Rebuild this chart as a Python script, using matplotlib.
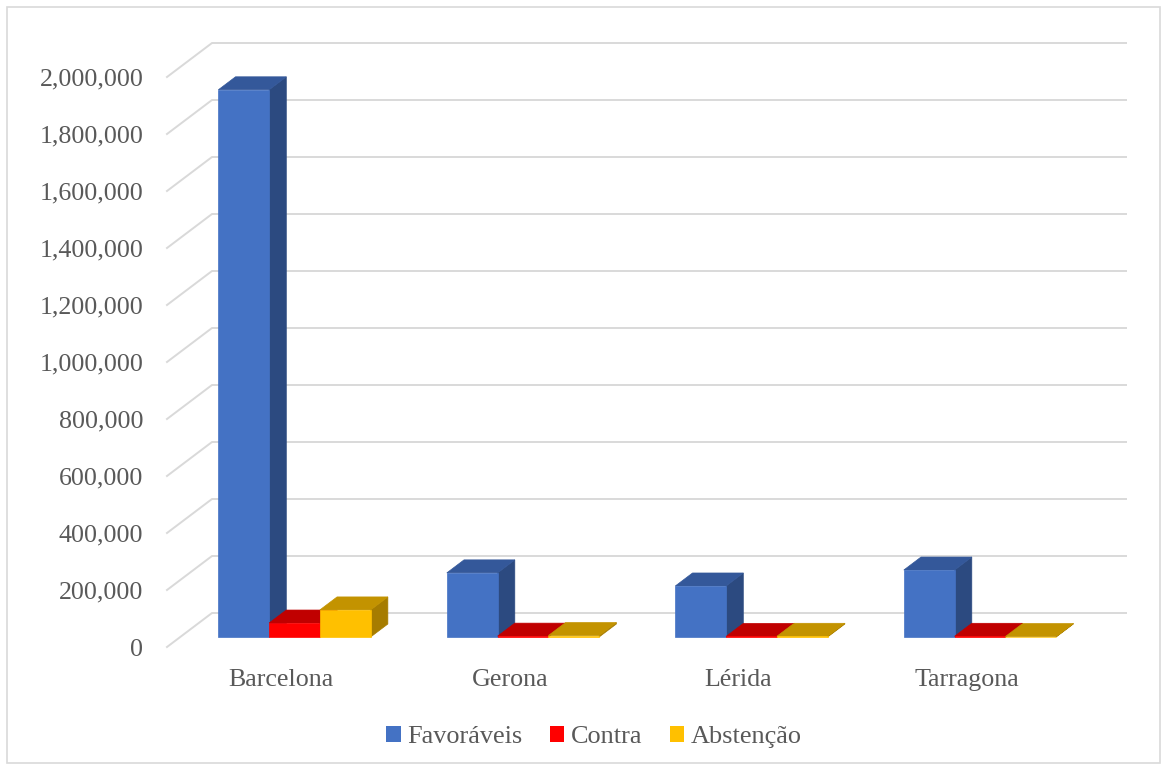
import matplotlib
matplotlib.use('Agg')
import matplotlib.pyplot as plt
import numpy as np
from matplotlib.patches import Polygon, Patch, Rectangle
from matplotlib.lines import Line2D
from matplotlib.transforms import IdentityTransform
from matplotlib.ticker import FuncFormatter

plt.rcParams['font.family'] = ['Liberation Serif', 'DejaVu Serif']

provincias = ['Barcelona', 'Gerona', 'Lérida', 'Tarragona']
favoraveis = [1920000, 225000, 179000, 235000]
contra = [49000, 3000, 2000, 2500]
abstencao = [95000, 5000, 2500, 1500]
series_names = ['Favoráveis', 'Contra', 'Abstenção']
series = [favoraveis, contra, abstencao]
y_ticks = list(range(0, 2000001, 200000))

# front, top, side shades of each series
cores = [
    ('#4472C4', '#34589A', '#2C4A80'),
    ('#FF0000', '#C00000', '#A20000'),
    ('#FFC000', '#C39300', '#A67C00'),
]

W, H = 1168, 769
fig = plt.figure(figsize=(W / 100, H / 100), dpi=100)
fig.patch.set_facecolor('white')

# front plane of the plot box, in pixels
x0, x1 = 167, 1081
y_zero, y_top = 647, 77
ax = fig.add_axes([x0 / W, (H - y_zero) / H, (x1 - x0) / W, (y_zero - y_top) / H])
ax.set_xlim(-0.5, len(provincias) - 0.5)
ax.set_ylim(0, 2000000)
ax.set_autoscale_on(False)
ax.patch.set_visible(False)
for s in ax.spines.values():
    s.set_visible(False)

ax.set_yticks(y_ticks)
ax.yaxis.set_major_formatter(FuncFormatter(lambda v, p: f'{v:,.0f}'))
ax.set_xticks(range(len(provincias)))
ax.set_xticklabels(provincias)
ax.tick_params(axis='y', length=0, pad=17, labelsize=18.7, labelcolor='#595959')
ax.tick_params(axis='x', length=0, pad=16, labelsize=18.7, labelcolor='#595959')

# oblique depth of the floor, in pixels
depth = np.array([45.0, 34.0])


def px(x, v, d):
    return ax.transData.transform((x, v)) + d * depth


grid_col = '#D9D9D9'
for v in y_ticks:
    a = px(-0.5, v, 0)
    b = px(-0.5, v, 1)
    c = px(len(provincias) - 0.5, v, 1)
    fig.add_artist(Line2D([a[0], b[0], c[0]], [a[1], b[1], c[1]], color=grid_col,
                          lw=1.4, transform=IdentityTransform(), zorder=1))

w = 1 / 4.5
d0, d1 = 10 / 34, 23 / 34
for i in range(len(provincias)):
    for j, vals in enumerate(series):
        v = vals[i]
        xl = i - 0.5 + 0.75 * w + j * w
        xr = xl + w
        front, top, side = cores[j]
        faces = [
            ([px(xr, 0, d0), px(xr, 0, d1), px(xr, v, d1), px(xr, v, d0)], side),
            ([px(xl, v, d0), px(xr, v, d0), px(xr, v, d1), px(xl, v, d1)], top),
            ([px(xl, 0, d0), px(xr, 0, d0), px(xr, v, d0), px(xl, v, d0)], front),
        ]
        for pts, col in faces:
            fig.add_artist(Polygon(pts, closed=True, facecolor=col, edgecolor=col,
                                   lw=0.5, transform=IdentityTransform(), zorder=2))

handles = [Patch(facecolor=c[0], edgecolor='none') for c in cores]
fig.legend(handles, series_names, loc='center', bbox_to_anchor=(594 / W, 1 - 737 / H),
           ncol=3, frameon=False, fontsize=18.9, labelcolor='#595959',
           handlelength=0.54, handleheight=0.54, handletextpad=0.25, columnspacing=1.05)

fig.add_artist(Rectangle((7 / W, 6 / H), 1153 / W, 756 / H, transform=fig.transFigure,
                         fill=False, edgecolor='#D9D9D9', lw=1.2))

fig.savefig('out.png', dpi=100)
